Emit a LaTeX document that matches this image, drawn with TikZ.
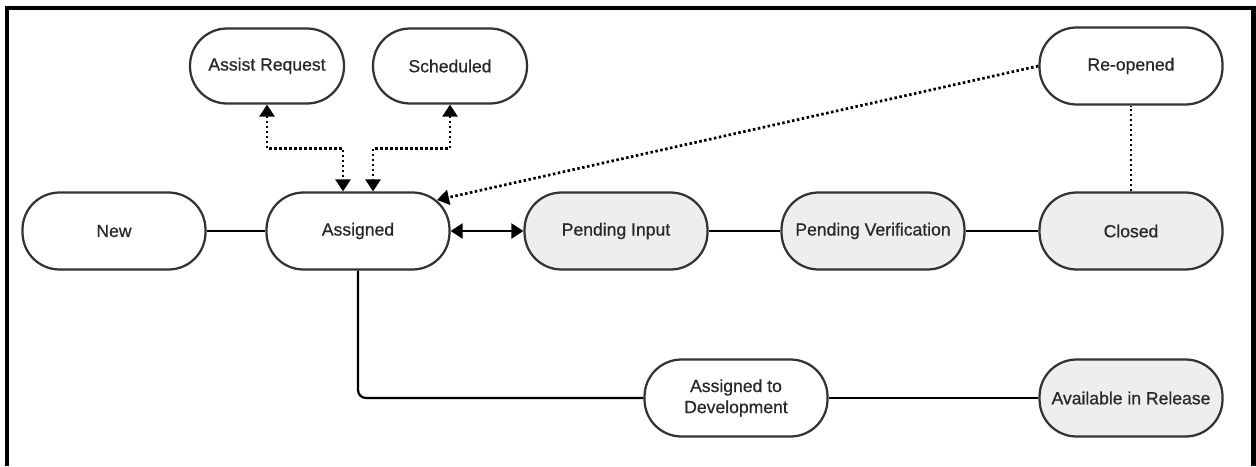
\documentclass[tikz,border=0pt]{standalone}
\usepackage{fontspec}
\setmainfont{Liberation Sans}
\newfontfamily\statefont{Liberation Sans}[FakeBold=0.7]
\usepackage{xcolor}
\usepackage{tikz}
\usetikzlibrary{arrows.meta}
\usetikzlibrary{calc}
\usetikzlibrary{positioning}
\definecolor{stategray}{RGB}{238,238,238}
\definecolor{edgegray}{RGB}{51,51,51}
\tikzset{
% Define standard arrow tip
>={Triangle[length=0.24cm, width=0.3cm]}
}

\begin{document}
\begin{tikzpicture}[x=0.02cm, y=-0.02cm,
    statebox/.style={rectangle, rounded corners=0.74cm, draw=edgegray, line width=0.045cm,
      text=edgegray!80!black, font=\statefont, minimum width=3.66cm, minimum height=1.54cm,
      align=center},
    sidebox/.style={statebox, minimum width=3.08cm, minimum height=1.5cm},
    pending/.style={statebox, fill=stategray},
    link/.style={draw=black, line width=0.045cm},
    dots/.style={link, line width=0.055cm, dash pattern=on 0.05cm off 0.05cm}]
  \useasboundingbox (0,0) rectangle (1256,466);
  \draw[line width=0.09cm] (7,466) -- (7,8) -- (1253.5,8) -- (1253.5,466);

  \node[statebox] (new) at (114,231) {New};
  \node[statebox] (assigned) at (358,231) {Assigned};
  \node[pending] (input) at (616,231) {Pending Input};
  \node[pending] (verification) at (873,231) {Pending Verification};
  \node[pending] (closed) at (1131,231) {Closed};
  \node[statebox] (reopened) at (1131,66) {Re-opened};
  \node[sidebox] (assist) at (267,66) {Assist Request};
  \node[sidebox] (scheduled) at (450,66) {Scheduled};
  \node[statebox] (development) at (736,398) {Assigned to\\Development};
  \node[pending] (release) at (1131,398) {Available in Release};

  \draw[link] (new) -- (assigned);
  \draw[link, <->] (assigned) -- (input);
  \draw[link] (input) -- (verification);
  \draw[link] (verification) -- (closed);
  \draw[link] (development) -- (release);
  \draw[link, rounded corners=0.16cm] (assigned.south) |- (development.west);

  \draw[dots] (closed) -- (reopened);
  \draw[dots, ->] (reopened.west) -- ($(assigned.center)+(79,-31)$);
  \draw[dots, <->] (assist.south) -- ++(0,44) -| ($(assigned.north)+(-15,0)$);
  \draw[dots, <->] (scheduled.south) -- ++(0,44) -| ($(assigned.north)+(15,0)$);
\end{tikzpicture}
\end{document}
